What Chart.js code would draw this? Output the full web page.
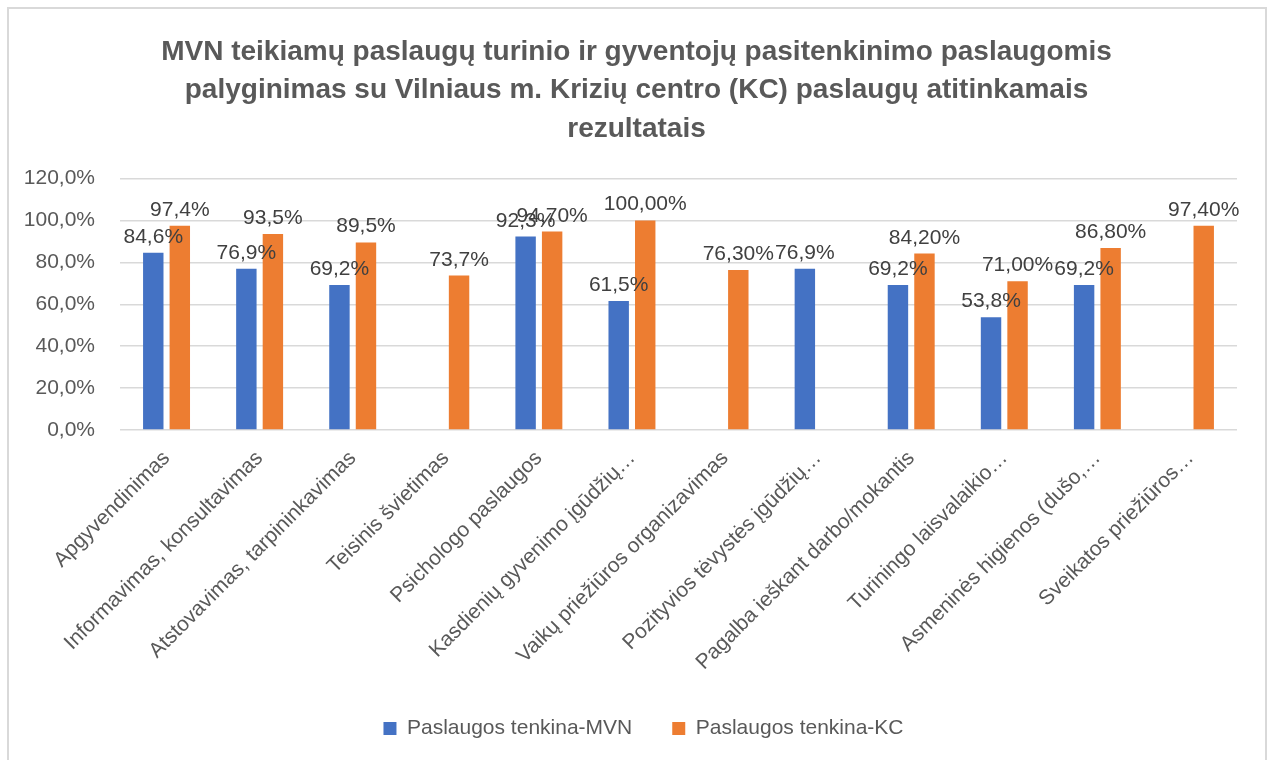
<!DOCTYPE html>
<html>
<head>
<meta charset="utf-8">
<script src="https://cdn.jsdelivr.net/npm/chart.js@4"></script>
<style>
  html, body { margin: 0; padding: 0; background: #fff; }
</style>
</head>
<body>
<canvas id="barChart" width="1272" height="760"></canvas>
<script>
// ---- data ----
const categories = [
  "Apgyvendinimas",
  "Informavimas, konsultavimas",
  "Atstovavimas, tarpininkavimas",
  "Teisinis švietimas",
  "Psichologo paslaugos",
  "Kasdienių gyvenimo įgūdžių…",
  "Vaikų priežiūros organizavimas",
  "Pozityvios tėvystės įgūdžių…",
  "Pagalba ieškant darbo/mokantis",
  "Turiningo laisvalaikio…",
  "Asmeninės higienos (dušo,…",
  "Sveikatos priežiūros…",
];
const mvnValues = [84.6, 76.9, 69.2, null, 92.3, 61.5, null, 76.9, 69.2, 53.8, 69.2, null];
const kcValues = [97.4, 93.5, 89.5, 73.7, 94.7, 100, 76.3, null, 84.2, 71.0, 86.8, 97.4];
// KC labels switch from one to two decimals part way through
const kcDecimals = [1, 1, 1, 1, 2, 2, 2, 2, 2, 2, 2, 2];
const seriesNames = ["Paslaugos tenkina-MVN", "Paslaugos tenkina-KC"];
const titleLines = [
  "MVN teikiamų paslaugų turinio ir gyventojų pasitenkinimo paslaugomis",
  "palyginimas su Vilniaus m. Krizių centro (KC) paslaugų atitinkamais",
  "rezultatais",
];

const FONT = "'Liberation Sans', Arial, sans-serif";
const pct = (v, d) => v.toFixed(d).replace(".", ",") + "%";

// white background + light frame like the Excel chart area
const frame = {
  id: "frame",
  afterLayout(chart) {
    // title and legend in the original are centred on the whole frame
    chart.titleBlock.left += 9;
    chart.titleBlock.right += 9;
    chart.legend.left += 16;
    chart.legend.right += 16;
  },
  beforeDraw(chart) {
    const ctx = chart.ctx;
    ctx.save();
    ctx.fillStyle = "#fff";
    ctx.fillRect(0, 0, chart.width, chart.height);
    ctx.strokeStyle = "#d9d9d9";
    ctx.lineWidth = 2;
    ctx.strokeRect(8, 8, 1258, 800);
    ctx.restore();
  },
};

// value labels above bars
const barLabels = {
  id: "barLabels",
  afterDatasetsDraw(chart) {
    const ctx = chart.ctx;
    ctx.save();
    ctx.font = "21px " + FONT;
    ctx.fillStyle = "#404040";
    ctx.textAlign = "center";
    ctx.textBaseline = "alphabetic";
    chart.data.datasets.forEach((ds, i) => {
      chart.getDatasetMeta(i).data.forEach((bar, j) => {
        const v = ds.data[j];
        if (v == null) return;
        const d = i === 0 ? 1 : kcDecimals[j];
        ctx.fillText(pct(v, d), bar.x, bar.y - 10);
      });
    });
    ctx.restore();
  },
};

new Chart(document.getElementById("barChart"), {
  type: "bar",
  data: {
    labels: categories,
    datasets: [
      {
        label: seriesNames[0],
        data: mvnValues,
        backgroundColor: "#4472c4",
        categoryPercentage: 0.57,
        barPercentage: 0.77,
      },
      {
        label: seriesNames[1],
        data: kcValues,
        backgroundColor: "#ed7d31",
        categoryPercentage: 0.57,
        barPercentage: 0.77,
      },
    ],
  },
  plugins: [frame, barLabels],
  options: {
    responsive: false,
    animation: false,
    layout: { padding: { left: 18, right: 35, top: 0, bottom: 11 } },
    scales: {
      x: {
        grid: { display: false, drawTicks: false },
        border: { display: false },
        ticks: {
          autoSkip: false,
          minRotation: 45,
          maxRotation: 45,
          padding: 16,
          color: "#595959",
          font: { family: FONT, size: 21 },
        },
        afterFit: (scale) => { scale.height = 248; },
      },
      y: {
        min: 0,
        max: 120,
        grid: { color: "#d9d9d9", lineWidth: 1.5, drawTicks: false },
        border: { display: false },
        ticks: {
          stepSize: 20,
          padding: 25,
          color: "#595959",
          font: { family: FONT, size: 21 },
          callback: (value) => pct(value, 1),
        },
        afterFit: (scale) => { scale.width = 102; },
      },
    },
    plugins: {
      title: {
        display: true,
        text: titleLines,
        color: "#595959",
        font: { family: FONT, size: 28, weight: "bold", lineHeight: 1.375 },
        padding: { top: 33, bottom: 30 },
      },
      legend: {
        position: "bottom",
        labels: {
          boxWidth: 13,
          boxHeight: 13,
          padding: 40,
          color: "#595959",
          font: { family: FONT, size: 21 },
        },
      },
      tooltip: { enabled: false },
    },
  },
});
</script>
</body>
</html>
